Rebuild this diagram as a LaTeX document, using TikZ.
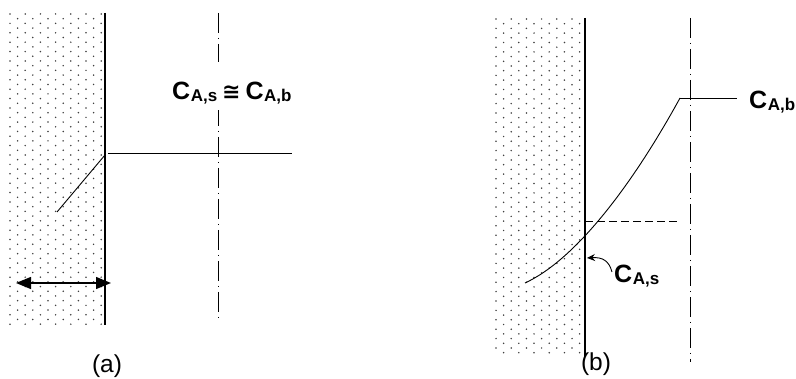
\documentclass[tikz,border=0pt]{standalone}
\usepackage{fontspec}
\setmainfont{Liberation Sans}
\newfontfamily\symfont{DejaVu Sans}
\usetikzlibrary{arrows.meta}
\newcommand{\Cconc}[1]{{\fontsize{25}{26}\selectfont\bfseries C\kern0.5pt\raisebox{-2pt}{\fontsize{17}{18}\selectfont #1}}}
\tikzset{
  wall/.style={line width=1.2pt},
  axisline/.style={line width=0.7pt, dash pattern=on 20pt off 5pt on 1pt off 5pt},
  profile/.style={line width=0.9pt},
  helper/.style={line width=0.8pt, dash pattern=on 8pt off 4pt},
  lbl/.style={inner sep=0pt, anchor=base west},
  captxt/.style={inner sep=0pt, anchor=base, font=\fontsize{24.5}{26}\selectfont},
  dot/.style={fill=black!75}
}
\begin{document}
\begin{tikzpicture}[x=1pt,y=-1pt]
\useasboundingbox (0,0) rectangle (796,379);
% dotted regions
\foreach \r in {0,...,66} {
  \pgfmathsetmacro{\yy}{14+4.7*\r}
  \foreach \c in {0,...,12} {
    \pgfmathsetmacro{\xx}{10+7.6*\c}
    \pgfmathtruncatemacro{\pp}{mod(\r+\c,2)}
    \ifnum\pp=0 \fill[dot] (\xx,\yy) circle (0.85pt); \fi
  }
}
\foreach \r in {0,...,71} {
  \pgfmathsetmacro{\yy}{19+4.7*\r}
  \foreach \c in {0,...,11} {
    \pgfmathsetmacro{\xx}{496+7.6*\c}
    \pgfmathtruncatemacro{\pp}{mod(\r+\c,2)}
    \ifnum\pp=0 \fill[dot] (\xx,\yy) circle (0.85pt); \fi
  }
}
% ---------- panel (a) ----------
\coordinate (awT) at (105,13);
\coordinate (awB) at (105,325);
\coordinate (acT) at (218,13);
\coordinate (acB) at (218,320);
\coordinate (aS) at (57,212);
\coordinate (aK) at (105,155);
\coordinate (aH1) at (108,153);
\coordinate (aH2) at (292,153);
\coordinate (aL) at (16,283);
\coordinate (aR) at (111,283);
\draw[wall] (awT) -- (awB);
\draw[axisline] (acT) -- (acB);
\fill[white] (168,62) rectangle (302,110);
\draw[profile] (aS) -- (aK);
\draw[profile] (aH1) -- (aH2);
\draw[line width=1.3pt, {Triangle[length=15pt,width=12pt]}-{Triangle[length=15pt,width=12pt]}] (aL) -- (aR);
\node[lbl] (eqlab) at (172,100) {\Cconc{A,s}\hspace{5pt}{\symfont\bfseries\fontsize{22}{24}\selectfont ≅}\hspace{5pt}\Cconc{A,b}};
\node[captxt] (capa) at (107,373) {(a)};
% ---------- panel (b) ----------
\coordinate (bwT) at (585,18);
\coordinate (bwB) at (585,357);
\coordinate (bcT) at (690,18);
\coordinate (bcB) at (690,362);
\coordinate (bH1) at (680,98);
\coordinate (bH2) at (737,98);
\coordinate (bD1) at (585,221);
\coordinate (bD2) at (680,221);
\coordinate (bS) at (525,283);
\draw[wall] (bwT) -- (bwB);
\draw[axisline] (bcT) -- (bcB);
\draw[helper] (bD1) -- (bD2);
\draw[profile] (bS) .. controls (577,259) and (634,182) .. (bH1);
\draw[profile] (bH1) -- (bH2);
\node[lbl] (cab) at (749,109) {\Cconc{A,b}};
\node[lbl] (cas) at (614,283) {\Cconc{A,s}};
\coordinate (arrS) at (612,272);
\coordinate (arrE) at (587,258);
\draw[line width=0.9pt, -{Stealth[length=8pt,width=7pt]}] (arrS) .. controls (609,261) and (603,257) .. (arrE);
\node[captxt] (capb) at (596,371) {(b)};
\end{tikzpicture}
\end{document}
